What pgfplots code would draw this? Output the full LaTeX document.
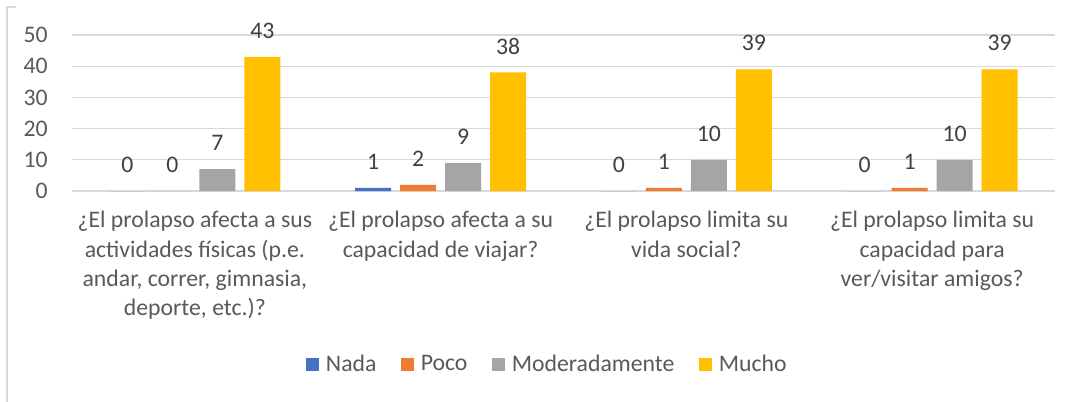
\documentclass[border=0pt]{standalone}
\usepackage{pgfplots}
\pgfplotsset{compat=1.18}
\usepackage{fontspec}
\setmainfont{Carlito}
\definecolor{nada}{HTML}{4472C4}
\definecolor{poco}{HTML}{ED7D31}
\definecolor{moder}{HTML}{A5A5A5}
\definecolor{mucho}{HTML}{FFC000}
\definecolor{gridc}{HTML}{D9D9D9}
\definecolor{txt}{HTML}{595959}
\definecolor{lbl}{HTML}{404040}
\newcommand\ff{\fontsize{17.8pt}{22pt}\selectfont}
\begin{document}
\ff
\begin{tikzpicture}
\path[use as bounding box] (-54pt,-157.5pt) rectangle (752.25pt,143.25pt);
\draw[gridc, line width=1pt] (-48.75pt,-158pt) -- (-48.75pt,138pt) -- (-42pt,138pt);
\begin{axis}[
  at={(0,0)}, anchor=south west,
  width=737.25pt, height=117pt, scale only axis,
  xmin=-0.5, xmax=3.5, ymin=0, ymax=50,
  ytick={0,10,...,50},
  xtick={0,1,2,3},
  xticklabels={{¿El prolapso afecta a sus\\actividades físicas (p.e.\\andar, correr, gimnasia,\\deporte, etc.)?},
               {¿El prolapso afecta a su\\capacidad de viajar?},
               {¿El prolapso limita su\\vida social?},
               {¿El prolapso limita su\\capacidad para\\ver/visitar amigos?}},
  xticklabel style={align=center, anchor=north, inner sep=0pt, yshift=-15pt, text=txt, font=\ff},
  yticklabel style={anchor=east, inner sep=0pt, xshift=-18pt, text=txt, font=\ff},
  /pgf/number format/assume math mode=true,
  ymajorgrids, grid style={gridc, line width=0.9pt},
  axis line style={draw=none}, major tick length=0pt,
  ybar=6.75pt, bar width=27pt,
  clip=false,
  nodes near coords,
  every node near coord/.append style={anchor=south, inner sep=0pt, yshift=13.5pt, text=lbl, font=\ff},
  legend style={at={(0.484,-1.115)}, anchor=center, draw=none, fill=none,
    legend columns=4, font=\ff, text=txt,
    /tikz/every even column/.append style={column sep=16.5pt},
    /tikz/every odd column/.append style={column sep=3pt},
    nodes={inner sep=2pt}},
  legend image code/.code={\fill[#1] (0pt,-4.9pt) rectangle (9.75pt,4.9pt);},
]
\addplot[fill=nada, draw=none] coordinates {(0,0) (1,1) (2,0) (3,0)};
\addplot[fill=poco, draw=none] coordinates {(0,0) (1,2) (2,1) (3,1)};
\addplot[fill=moder, draw=none] coordinates {(0,7) (1,9) (2,10) (3,10)};
\addplot[fill=mucho, draw=none] coordinates {(0,43) (1,38) (2,39) (3,39)};
\legend{Nada, Poco, Moderadamente, Mucho}
\end{axis}
\end{tikzpicture}
\end{document}
